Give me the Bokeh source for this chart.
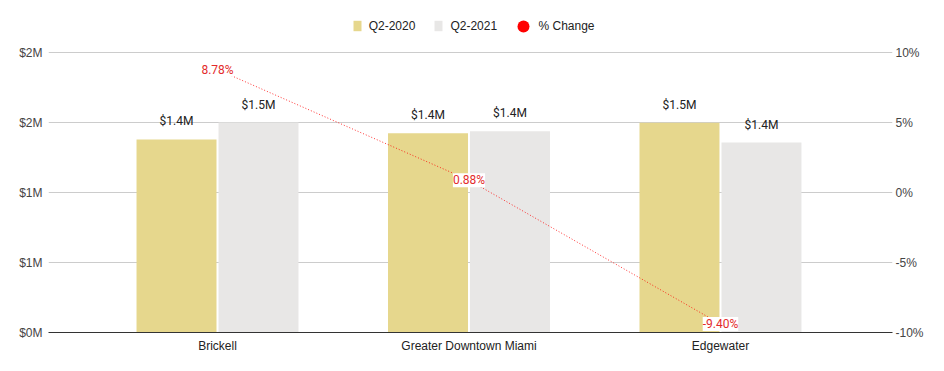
from bokeh.plotting import figure
from bokeh.models import (ColumnDataSource, Range1d, LinearAxis, FixedTicker,
                          CustomJSTickFormatter, PrintfTickFormatter, Legend,
                          LegendItem, LabelSet)
from bokeh.core.properties import value
from bokeh.transform import dodge
from bokeh.embed import file_html
from bokeh.resources import INLINE

# ---- data ----
categories = ["Brickell", "Greater Downtown Miami", "Edgewater"]
q2_2020 = [1.379, 1.424, 1.498]      # $M
q2_2021 = [1.500, 1.437, 1.357]      # $M
pct_change = [8.78, 0.88, -9.40]     # %
left_ticks = [0, 0.5, 1.0, 1.5, 2.0]
right_ticks = [-10, -5, 0, 5, 10]

xs = list(range(len(categories)))
src = ColumnDataSource(dict(
    x=xs,
    a=q2_2020,
    b=q2_2021,
    pct=pct_change,
    la=["$%.1fM" % v for v in q2_2020],
    lb=["$%.1fM" % v for v in q2_2021],
    lp=["%.2f%%" % v for v in pct_change],
))

GOLD = "#e6d78d"
GRAY = "#e8e7e6"
RED = "#e32b2b"

W, H = 944, 371
FRAME_H = 332          # frame spans from the top of the canvas to the x axis
PLOT_H = 280           # height of the 0..2M band
ytop = 2.0 * FRAME_H / PLOT_H
ptop = -10 + 20.0 * FRAME_H / PLOT_H

p = figure(width=W, height=H, output_backend="svg", toolbar_location=None,
           x_range=Range1d(-0.672, 2.684), y_range=Range1d(0, ytop),
           min_border_left=48, min_border_right=52, min_border_top=0,
           min_border_bottom=39)
p.yaxis.visible = False
p.outline_line_color = None
p.extra_y_ranges = {"pct": Range1d(-10, ptop)}

off = 0.163
w = 0.318
r1 = p.vbar(x=dodge("x", -off), top="a", width=w, source=src,
            fill_color=GOLD, line_color=None)
r2 = p.vbar(x=dodge("x", off), top="b", width=w, source=src,
            fill_color=GRAY, line_color=None)

p.line(x="x", y="pct", source=src, y_range_name="pct", line_color="#ff0000",
       line_alpha=0.8, line_width=1, line_dash="1 2")
r3 = p.scatter(x="x", y="pct", source=src, y_range_name="pct", size=4,
               marker="circle", fill_color="#ff0000", line_color=None)

# value labels
for col, top, dx in (("la", "a", -off), ("lb", "b", off)):
    p.text(x=dodge("x", dx), y=top,
           text=col, source=src, text_align="center", text_baseline="middle",
           y_offset=-18, text_font_size="12px", text_color="#222222",
           text_font=value("Roboto"))

pl = LabelSet(x="x", y="pct", text="lp", source=src, y_range_name="pct",
              text_align="center", text_baseline="middle",
              text_font_size="12px", text_color=RED, text_font=value("Roboto"),
              background_fill_color="white", background_fill_alpha=1.0)
p.add_layout(pl)

# axes
p.xaxis.ticker = FixedTicker(ticks=xs)
p.xaxis.major_label_overrides = {i: c for i, c in enumerate(categories)}
p.xaxis.axis_line_color = "#333333"
p.xaxis.major_tick_line_color = None
p.xaxis.minor_tick_line_color = None
p.xaxis.major_tick_out = 0
p.xaxis.major_tick_in = 0
p.xaxis.major_label_text_font = "Liberation Sans"
p.xaxis.major_label_text_font_size = "12px"
p.xaxis.major_label_text_color = "#222222"
p.xaxis.major_label_standoff = 6
p.xgrid.visible = False

la = LinearAxis(ticker=FixedTicker(ticks=left_ticks),
                formatter=CustomJSTickFormatter(code="return '$' + Math.round(tick) + 'M';"))
ra = LinearAxis(y_range_name="pct", ticker=FixedTicker(ticks=right_ticks),
                formatter=PrintfTickFormatter(format="%d%%"))
for ax in (la, ra):
    ax.axis_line_color = None
    ax.major_tick_line_color = None
    ax.minor_tick_line_color = None
    ax.major_tick_out = 0
    ax.major_tick_in = 0
    ax.major_label_text_font = "Liberation Sans"
    ax.major_label_text_font_size = "12px"
    ax.major_label_text_color = "#444444"
la.major_label_standoff = 6
ra.major_label_standoff = 3
p.add_layout(la, "left")
p.add_layout(ra, "right")

p.ygrid.ticker = FixedTicker(ticks=left_ticks)
p.ygrid.grid_line_color = "#cccccc"

common = dict(orientation="horizontal", padding=0, margin=0,
              border_line_color=None, background_fill_alpha=0,
              label_text_font="Liberation Sans", label_text_font_size="12px",
              label_text_color="#222222")
leg1 = Legend(items=[LegendItem(label="Q2-2020", renderers=[r1]),
                     LegendItem(label="Q2-2021", renderers=[r2])],
              location=(303.7, FRAME_H - 32.7),
              glyph_width=10, glyph_height=13, label_standoff=7, spacing=18,
              **common)
leg2 = Legend(items=[LegendItem(label="% Change", renderers=[r3])],
              location=(459.5, FRAME_H - 40.7),
              glyph_width=30, glyph_height=30, label_standoff=1, spacing=0,
              **common)
p.add_layout(leg1, "center")
p.add_layout(leg2, "center")

open("out.html", "w").write(file_html(p, INLINE))
